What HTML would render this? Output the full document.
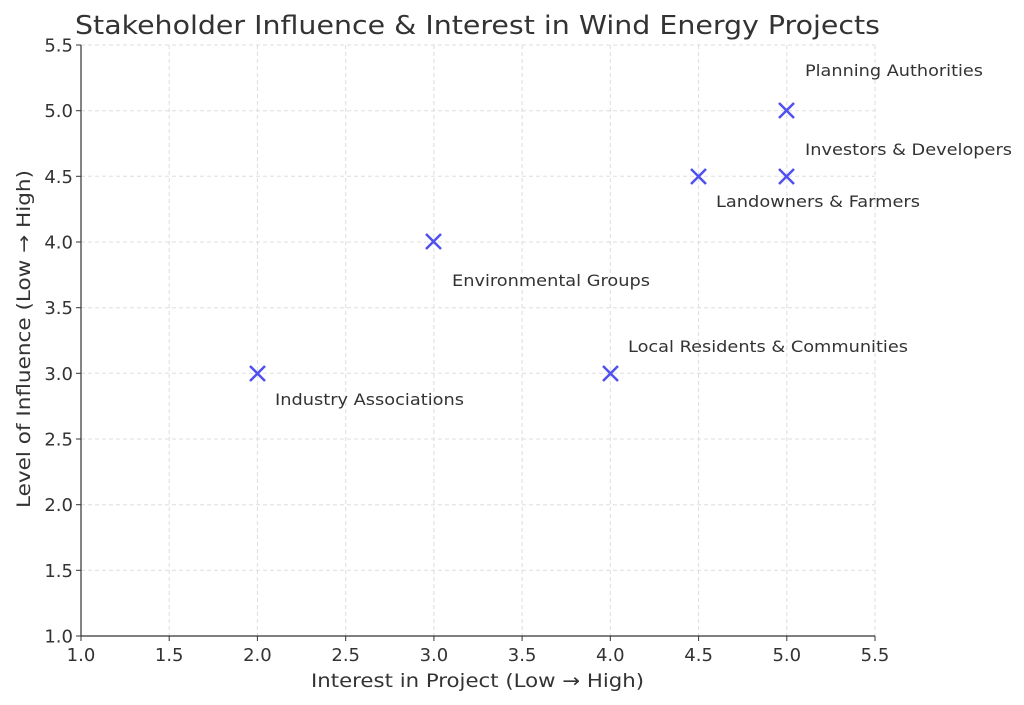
<!DOCTYPE html>
<html><head><meta charset="utf-8"><style>
body{margin:0;background:#fff;}
svg{display:block;font-family:"DejaVu Sans","Liberation Sans",sans-serif;}
</style></head><body>
<svg width="1024" height="705" viewBox="0 0 1024 705">
<rect width="1024" height="705" fill="#fff"/>
<text x="75" y="34" font-size="26" fill="#333" textLength="805" lengthAdjust="spacingAndGlyphs">Stakeholder Influence &amp; Interest in Wind Energy Projects</text>
<g stroke="#ddd" stroke-width="1" stroke-dasharray="4,3">
<line x1="169.2" y1="45" x2="169.2" y2="636"/><line x1="257.4" y1="45" x2="257.4" y2="636"/>
<line x1="345.7" y1="45" x2="345.7" y2="636"/><line x1="433.9" y1="45" x2="433.9" y2="636"/>
<line x1="522.1" y1="45" x2="522.1" y2="636"/><line x1="610.3" y1="45" x2="610.3" y2="636"/>
<line x1="698.6" y1="45" x2="698.6" y2="636"/><line x1="786.8" y1="45" x2="786.8" y2="636"/>
<line x1="875" y1="45" x2="875" y2="636"/>
<line x1="81" y1="570.3" x2="875" y2="570.3"/><line x1="81" y1="504.7" x2="875" y2="504.7"/>
<line x1="81" y1="439" x2="875" y2="439"/><line x1="81" y1="373.3" x2="875" y2="373.3"/>
<line x1="81" y1="307.7" x2="875" y2="307.7"/><line x1="81" y1="242" x2="875" y2="242"/>
<line x1="81" y1="176.3" x2="875" y2="176.3"/><line x1="81" y1="110.7" x2="875" y2="110.7"/>
<line x1="81" y1="45" x2="875" y2="45"/>
</g>
<g stroke="#333" stroke-width="1.2">
<line x1="81" y1="45" x2="81" y2="636"/><line x1="81" y1="636" x2="875" y2="636"/>
</g>
<g stroke="#333" stroke-width="1">
<line x1="81" y1="636" x2="81" y2="641"/><line x1="169.2" y1="636" x2="169.2" y2="641"/><line x1="257.4" y1="636" x2="257.4" y2="641"/><line x1="345.7" y1="636" x2="345.7" y2="641"/><line x1="433.9" y1="636" x2="433.9" y2="641"/><line x1="522.1" y1="636" x2="522.1" y2="641"/><line x1="610.3" y1="636" x2="610.3" y2="641"/><line x1="698.6" y1="636" x2="698.6" y2="641"/><line x1="786.8" y1="636" x2="786.8" y2="641"/><line x1="875" y1="636" x2="875" y2="641"/>
<line x1="76" y1="636" x2="81" y2="636"/><line x1="76" y1="570.3" x2="81" y2="570.3"/><line x1="76" y1="504.7" x2="81" y2="504.7"/><line x1="76" y1="439" x2="81" y2="439"/><line x1="76" y1="373.3" x2="81" y2="373.3"/><line x1="76" y1="307.7" x2="81" y2="307.7"/><line x1="76" y1="242" x2="81" y2="242"/><line x1="76" y1="176.3" x2="81" y2="176.3"/><line x1="76" y1="110.7" x2="81" y2="110.7"/><line x1="76" y1="45" x2="81" y2="45"/>
</g>
<g font-size="18" fill="#333" text-anchor="middle">
<text x="81" y="661">1.0</text><text x="169.2" y="661">1.5</text><text x="257.4" y="661">2.0</text><text x="345.7" y="661">2.5</text><text x="433.9" y="661">3.0</text><text x="522.1" y="661">3.5</text><text x="610.3" y="661">4.0</text><text x="698.6" y="661">4.5</text><text x="786.8" y="661">5.0</text><text x="875" y="661">5.5</text>
</g>
<g font-size="18" fill="#333" text-anchor="end">
<text x="73" y="642.5">1.0</text><text x="73" y="576.8">1.5</text><text x="73" y="511.2">2.0</text><text x="73" y="445.5">2.5</text><text x="73" y="379.8">3.0</text><text x="73" y="314.2">3.5</text><text x="73" y="248.5">4.0</text><text x="73" y="182.8">4.5</text><text x="73" y="117.2">5.0</text><text x="73" y="51.5">5.5</text>
</g>
<text x="311" y="687" font-size="19" fill="#333" textLength="333" lengthAdjust="spacingAndGlyphs">Interest in Project (Low → High)</text>
<text transform="translate(30,508) rotate(-90)" font-size="19" fill="#333" textLength="338" lengthAdjust="spacingAndGlyphs">Level of Influence (Low → High)</text>
<g stroke="#5050f0" stroke-width="2.5">
<path d="M250 366L265 381M265 366L250 381"/>
<path d="M426 234L441 249M441 234L426 249"/>
<path d="M603 366L618 381M618 366L603 381"/>
<path d="M691 169L706 184M706 169L691 184"/>
<path d="M779 169L794 184M794 169L779 184"/>
<path d="M779 103L794 118M794 103L779 118"/>
</g>
<g font-size="16" fill="#333">
<text x="805" y="76" textLength="178" lengthAdjust="spacingAndGlyphs">Planning Authorities</text>
<text x="805" y="155" textLength="207" lengthAdjust="spacingAndGlyphs">Investors &amp; Developers</text>
<text x="716" y="207" textLength="204" lengthAdjust="spacingAndGlyphs">Landowners &amp; Farmers</text>
<text x="452" y="286" textLength="198" lengthAdjust="spacingAndGlyphs">Environmental Groups</text>
<text x="628" y="352" textLength="280" lengthAdjust="spacingAndGlyphs">Local Residents &amp; Communities</text>
<text x="275" y="405" textLength="189" lengthAdjust="spacingAndGlyphs">Industry Associations</text>
</g>
</svg>
</body></html>
